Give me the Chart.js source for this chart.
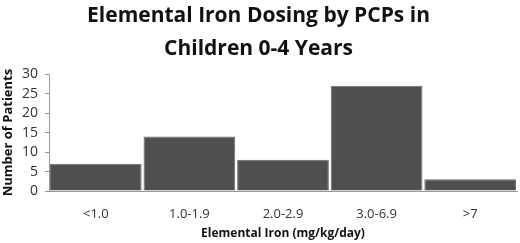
<!DOCTYPE html>
<html lang="en">
<head>
<meta charset="UTF-8">
<title>Elemental Iron Dosing</title>
<script src="https://cdn.jsdelivr.net/npm/chart.js"></script>
<style>
  body { margin: 0; background: #fff; }
  .wrap { width: 520px; height: 243px; }
</style>
</head>
<body>
<div class="wrap"><canvas id="ironChart"></canvas></div>
<script>
const doseRanges = ["<1.0", "1.0-1.9", "2.0-2.9", "3.0-6.9", ">7"];
const patientCounts = [7, 14, 8, 27, 3];
const titleLines = ["Elemental Iron Dosing by PCPs in", "Children 0-4 Years"];

const font = "'Open Sans', 'Liberation Sans', sans-serif";

new Chart(document.getElementById("ironChart"), {
  type: "bar",
  data: {
    labels: doseRanges,
    datasets: [{
      data: patientCounts,
      backgroundColor: "#4f4f4f",
      borderColor: "#6a6a6a",
      borderWidth: 1,
      barPercentage: 0.98,
      categoryPercentage: 1
    }]
  },
  options: {
    responsive: true,
    maintainAspectRatio: false,
    animation: false,
    layout: { padding: { top: 0, right: 3, bottom: 0, left: 0 } },
    plugins: {
      legend: { display: false },
      tooltip: { enabled: false },
      title: {
        display: true,
        text: titleLines,
        color: "#111",
        font: { family: font, size: 21, weight: "bold", lineHeight: 1.55 },
        padding: { top: 0, bottom: 9 }
      }
    },
    scales: {
      x: {
        afterFit: (scale) => { scale.height = 52; },
        grid: { display: false, drawTicks: false },
        border: { color: "#999" },
        ticks: { color: "#333", font: { family: font, size: 13 }, padding: 15, maxRotation: 0, minRotation: 0 },
        title: {
          display: true,
          text: "Elemental Iron (mg/kg/day)",
          color: "#111",
          font: { family: font, size: 12, weight: "bold" },
          padding: { top: 0, bottom: 2 }
        }
      },
      y: {
        min: 0,
        max: 30,
        afterFit: (scale) => { scale.width = 49; },
        ticks: { stepSize: 5, autoSkip: false, color: "#333", font: { family: font, size: 14 }, padding: 7 },
        grid: { drawOnChartArea: false, drawTicks: true, tickLength: 4, color: "#999" },
        border: { color: "#999" },
        title: {
          display: true,
          text: "Number of Patients",
          color: "#111",
          font: { family: font, size: 13, weight: "bold" },
          padding: { top: 0, bottom: 0 }
        }
      }
    }
  }
});
</script>
</body>
</html>
